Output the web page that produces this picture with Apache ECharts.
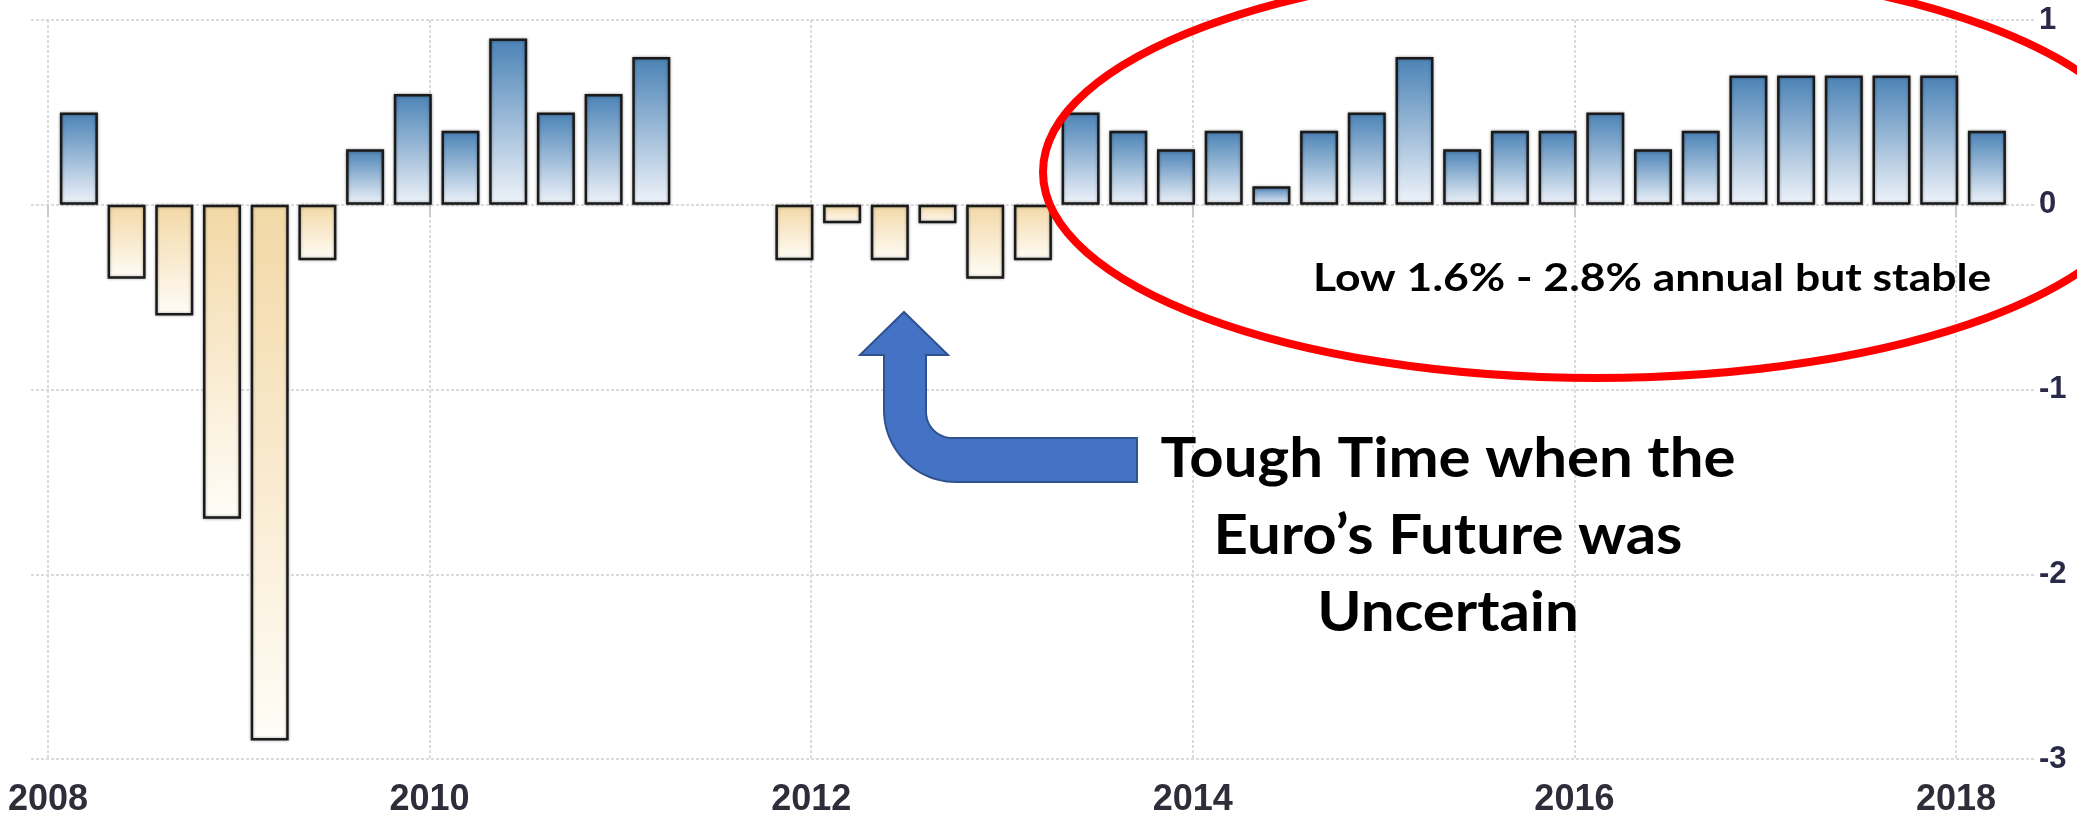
<!DOCTYPE html>
<html>
<head>
<meta charset="utf-8">
<title>Euro Area GDP Growth Rate</title>
<script src="https://cdn.jsdelivr.net/npm/echarts@6/dist/echarts.min.js"></script>
<style>
  html, body { margin: 0; padding: 0; background: #fff; }
  #chart { width: 2077px; height: 818px; }
</style>
</head>
<body>
<div id="chart"></div>
<script>
// quarterly GDP growth rate (%, QoQ), 2011 Q2/Q3 missing in the source chart
const quarters = [
  '2008Q1', '2008Q2', '2008Q3', '2008Q4',
  '2009Q1', '2009Q2', '2009Q3', '2009Q4',
  '2010Q1', '2010Q2', '2010Q3', '2010Q4',
  '2011Q1', '2011Q2', '2011Q3', '2011Q4',
  '2012Q1', '2012Q2', '2012Q3', '2012Q4',
  '2013Q1', '2013Q2', '2013Q3', '2013Q4',
  '2014Q1', '2014Q2', '2014Q3', '2014Q4',
  '2015Q1', '2015Q2', '2015Q3', '2015Q4',
  '2016Q1', '2016Q2', '2016Q3', '2016Q4',
  '2017Q1', '2017Q2', '2017Q3', '2017Q4',
  '2018Q1'
]
const growth = [
  0.5, -0.4, -0.6, -1.7,
  -2.9, -0.3, 0.3, 0.6,
  0.4, 0.9, 0.5, 0.6,
  0.8, null, null, -0.3,
  -0.1, -0.3, -0.1, -0.4,
  -0.3, 0.5, 0.4, 0.3,
  0.4, 0.1, 0.4, 0.5,
  0.8, 0.3, 0.4, 0.4,
  0.5, 0.3, 0.4, 0.7,
  0.7, 0.7, 0.7, 0.7,
  0.4
]
const yTicks = [-3, -2, -1, 0, 1]

const noteStable = 'Low 1.6% - 2.8% annual but stable'
const noteTough = 'Tough Time when the\nEuro\u2019s Future was\nUncertain'

// bars sit a little after the start of their quarter on the time scale
const BAR_OFFSET = 0.162
function quarterToYear(q) {
  const year = parseInt(q.slice(0, 4), 10)
  const n = parseInt(q.slice(5), 10)
  return year + (n - 1) / 4 + BAR_OFFSET
}

const barData = quarters.map((q, i) => [quarterToYear(q), growth[i]])

const posFill = new echarts.graphic.LinearGradient(0, 0, 0, 1, [
  { offset: 0, color: '#4a82b6' },
  { offset: 1, color: '#f0f4fa' }
])
const negFill = new echarts.graphic.LinearGradient(0, 0, 0, 1, [
  { offset: 0, color: '#f3d8a6' },
  { offset: 1, color: '#fffdf8' }
])

// bent arrow outline, arcs sampled into points
function arcPoints(cx, cy, r, a0, a1, steps) {
  const pts = []
  for (let i = 0; i <= steps; i++) {
    const a = (a0 + (a1 - a0) * i / steps) * Math.PI / 180
    pts.push([cx + r * Math.cos(a), cy + r * Math.sin(a)])
  }
  return pts
}
const arrowPts = [].concat(
  [[904, 312], [948, 355], [926, 355]],
  arcPoints(952, 412, 26, 180, 90, 16),
  [[1137, 438], [1137, 482]],
  arcPoints(956, 410, 72, 90, 180, 24),
  [[884, 355], [860, 355]]
)

const gridLine = { color: '#d0d0d0', width: 1.5, type: [3, 2] }
const tickFont = "'Liberation Sans Narrow', 'Arial Narrow', 'Liberation Sans', sans-serif"

const chart = echarts.init(document.getElementById('chart'))
chart.setOption({
  animation: false,
  backgroundColor: '#ffffff',
  grid: { left: 31, right: 42, top: 20, bottom: 57 },
  xAxis: {
    type: 'value',
    min: 2007.911,
    max: 2018.414,
    splitNumber: 5,
    axisLine: { show: false },
    axisTick: { show: true, length: 12, lineStyle: { color: '#cccccc', width: 2 } },
    axisLabel: {
      showMinLabel: false,
      showMaxLabel: false,
      margin: 23,
      formatter: (v) => String(v),
      fontFamily: tickFont,
      fontWeight: 'bold',
      fontSize: 36,
      color: '#2e2e3a'
    },
    splitLine: { show: true, showMinLine: false, showMaxLine: false, lineStyle: gridLine }
  },
  yAxis: {
    type: 'value',
    position: 'right',
    min: yTicks[0],
    max: yTicks[yTicks.length - 1],
    interval: 1,
    axisLine: { show: false },
    axisTick: { show: false },
    axisLabel: {
      margin: 4,
      fontFamily: tickFont,
      fontWeight: 'bold',
      fontSize: 31,
      color: '#2a2a48'
    },
    splitLine: { show: true, lineStyle: gridLine }
  },
  series: [
    {
      type: 'bar',
      data: barData,
      barWidth: 38,
      itemStyle: {
        color: (p) => (p.value[1] < 0 ? negFill : posFill),
        borderColor: '#1a1a1a',
        borderWidth: 2.5,
        shadowBlur: 3,
        shadowColor: 'rgba(0,0,0,0.35)'
      }
    }
  ],
  graphic: [
    {
      type: 'ellipse',
      z: 100,
      shape: { cx: 1596, cy: 172, rx: 553, ry: 206 },
      style: { fill: 'none', stroke: '#ff0000', lineWidth: 8 }
    },
    {
      type: 'polygon',
      z: 100,
      shape: { points: arrowPts },
      style: { fill: '#4472c4', stroke: '#2f528f', lineWidth: 2 }
    },
    {
      type: 'text',
      z: 100,
      x: 1313,
      y: 279,
      scaleX: 1.17,
      style: {
        text: noteStable,
        font: "bold 38px Lato, 'Noto Sans', sans-serif",
        fill: '#000000',
        align: 'left',
        verticalAlign: 'middle',
        textAlign: 'left',
        textVerticalAlign: 'middle'
      }
    },
    {
      type: 'text',
      z: 100,
      x: 1448,
      y: 420,
      scaleX: 1.07,
      style: {
        text: noteTough,
        font: "bold 56px Lato, 'Noto Sans', sans-serif",
        lineHeight: 77,
        fill: '#000000',
        align: 'center',
        verticalAlign: 'top',
        textAlign: 'center',
        textVerticalAlign: 'top'
      }
    }
  ]
})
</script>
</body>
</html>
